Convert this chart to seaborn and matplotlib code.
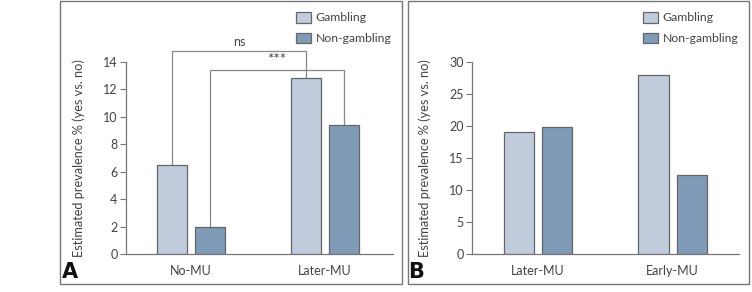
import matplotlib
matplotlib.use("Agg")
import matplotlib.pyplot as plt
import matplotlib.patches as mpatches
import pandas as pd
import seaborn as sns

# values
groups = ["Gambling", "Non-gambling"]
cats_a = ["No-MU", "Later-MU"]
gambling_a = [6.5, 12.85]
nongambling_a = [2.0, 9.4]
cats_b = ["Later-MU", "Early-MU"]
gambling_b = [19.0, 28.0]
nongambling_b = [19.9, 12.4]
yticks_a = [0, 2, 4, 6, 8, 10, 12, 14]
yticks_b = [0, 5, 10, 15, 20, 25, 30]

LIGHT = "#c0ccdb"
DARK = "#7f9bb8"
EDGE = "#666666"
TXT = "#444444"
W, H = 752, 292

sns.set_style("white")
plt.rcParams["font.family"] = ["Lato", "DejaVu Sans"]


def make_df(cats, g, ng):
    return pd.DataFrame({
        "cat": cats * 2,
        "group": [groups[0]] * len(cats) + [groups[1]] * len(cats),
        "val": g + ng,
    })


def px_axes(fig, x0, x1, ytop, ybot):
    return fig.add_axes([x0 / W, 1 - ybot / H, (x1 - x0) / W, (ybot - ytop) / H])


def draw_panel(ax, df, cats, yticks, xlim, letter, leg_x):
    sns.barplot(data=df, x="cat", y="val", hue="group", order=cats,
                hue_order=groups, palette=[LIGHT, DARK], width=0.567, gap=0.21,
                edgecolor=EDGE, linewidth=0.9, saturation=1, ax=ax)
    ax.set_ylim(0, yticks[-1])
    ax.set_xlim(*xlim)
    ax.set_yticks(yticks)
    for s in ["top", "right"]:
        ax.spines[s].set_visible(False)
    for s in ["left", "bottom"]:
        ax.spines[s].set_color("#777777")
        ax.spines[s].set_linewidth(0.9)
    ax.tick_params(axis="y", length=4, width=0.8, color="#777777", labelsize=9,
                   labelcolor=TXT, pad=2, left=True)
    ax.tick_params(axis="x", length=0, labelsize=9, labelcolor=TXT, pad=8)
    ax.set_xlabel("")
    ax.set_ylabel("Estimated prevalence % (yes vs. no)", fontsize=9.2, color=TXT,
                  labelpad=13)
    ax.legend(loc="upper left", bbox_to_anchor=(leg_x, 1.262), frameon=False,
              fontsize=8.8, labelcolor=TXT, handlelength=1.25, handleheight=1.0,
              handletextpad=0.35, labelspacing=0.75, borderaxespad=0, borderpad=0)
    ax.text(-0.24, -0.094, letter, transform=ax.transAxes, fontsize=15,
            fontweight="bold", color="#111111", ha="left", va="center",
            family="DejaVu Sans")


fig = plt.figure(figsize=(W / 100, H / 100), dpi=100)
fig.patch.set_facecolor("white")

# panel frames
for x0, x1 in [(60, 402), (408, 749)]:
    fig.patches.append(mpatches.Rectangle((x0 / W, 1 - 284 / H), (x1 - x0) / W, 283 / H,
                                          transform=fig.transFigure, fill=False,
                                          edgecolor="#777777", linewidth=1))

ax_a = px_axes(fig, 126, 393, 62, 254)
draw_panel(ax_a, make_df(cats_a, gambling_a, nongambling_a), cats_a, yticks_a,
           (-0.485, 1.507), "A", 0.637)

# significance brackets in panel A
off = 0.567 / 4
brackets = [
    (0 - off, 1 - off, gambling_a[0], gambling_a[1], 14.8, "ns", 9),
    (0 + off, 1 + off, nongambling_a[0], nongambling_a[1], 13.4, "***", 11),
]
for xa, xb, ya, yb, top, lab, fs in brackets:
    ax_a.plot([xa, xa, xb, xb], [ya, top, top, yb], color="#888888", lw=0.9,
              clip_on=False, zorder=0)
    ax_a.text((xa + xb) / 2, top + 0.2, lab, ha="center", va="bottom",
              fontsize=fs, color=TXT)

ax_b = px_axes(fig, 472, 739, 62, 254)
draw_panel(ax_b, make_df(cats_b, gambling_b, nongambling_b), cats_b, yticks_b,
           (-0.49, 1.494), "B", 0.64)

fig.savefig("out.png", dpi=100)
